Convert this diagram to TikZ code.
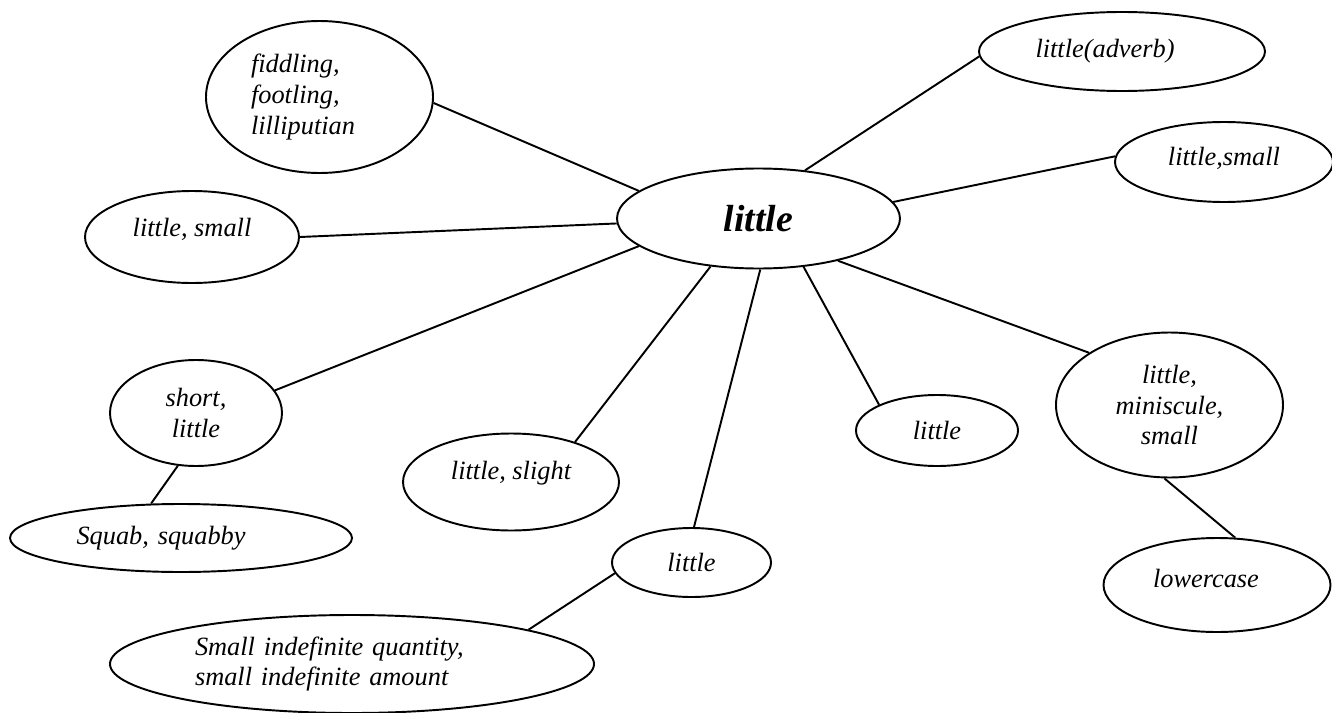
\documentclass[tikz,border=0pt]{standalone}
\usepackage{fontspec}
\setmainfont{Liberation Serif}
\usetikzlibrary{shapes.geometric}

\begin{document}
\begin{tikzpicture}[
      word/.style={draw=black,line width=1.1pt,ellipse,inner sep=0pt,
        align=center,font=\fontsize{15}{17.5}\selectfont\itshape},
      link/.style={draw=black,line width=1.1pt}
    ]
    \useasboundingbox (0,0) rectangle (26.64,-14.26);
    % the head word
    \node[word,minimum width=5.66cm,minimum height=2.0cm,
      font=\fontsize{21.5}{24}\selectfont\bfseries\itshape] (lit) at (15.17,-4.37) {little};
    % upper ring
    \node[word,minimum width=4.54cm,minimum height=3.04cm,text width=2.74cm,align=left]
      (fid) at (6.39,-1.94) {fiddling,\\footling,\\lilliputian};
    \node[word,minimum width=4.28cm,minimum height=1.84cm,text depth=0.39cm]
      (lsm) at (3.84,-4.74) {little, small};
    \node[word,minimum width=5.72cm,minimum height=1.58cm,text width=3.46cm,align=left]
      (adv) at (22.44,-1.03) {little(adverb)};
    \node[word,minimum width=4.36cm,minimum height=1.60cm,text depth=0.23cm]
      (rsm) at (24.48,-3.24) {little,small};
    % lower ring
    \node[word,minimum width=3.44cm,minimum height=2.12cm] (sht) at (3.92,-8.26) {short,\\little};
    \node[word,minimum width=4.32cm,minimum height=1.94cm,text depth=0.47cm]
      (sli) at (10.22,-9.64) {little, slight};
    \node[word,minimum width=3.18cm,minimum height=1.38cm] (lbt) at (13.83,-11.25) {little};
    \node[word,minimum width=3.24cm,minimum height=1.42cm] (lmr) at (18.74,-8.61) {little};
    \node[word,minimum width=4.54cm,minimum height=2.90cm] (min) at (23.39,-8.10)
      {little,\\miniscule,\\small};
    % outer leaves
    \node[word,minimum width=6.84cm,minimum height=1.36cm,text width=4.18cm,align=left]
      (sqb) at (3.62,-10.76) {Squab, squabby};
    \node[word,minimum width=9.68cm,minimum height=1.96cm,text width=6.28cm,align=left]
      (ind) at (7.04,-13.28) {Small indefinite quantity,\\small indefinite amount};
    \node[word,minimum width=4.54cm,minimum height=1.88cm,text width=2.56cm,align=left,
      text depth=0.28cm] (low) at (24.34,-11.70) {lowercase};
    % links from the head word
    \draw[link] (lit.167.8) -- (fid.-3.5);
    \draw[link] (lit.182.2) -- (lsm.0);
    \draw[link] (lit.46.3) -- (adv.182);
    \draw[link] (lit.7.5) -- (rsm.177.4);
    \draw[link] (lit.193.6) -- (sht.16.7);
    \draw[link] (lit.225.6) -- (sli.32.8);
    \draw[link] (lit.-88) -- (lbt.86);
    \draw[link] (lit.-47.5) -- (lmr.156.6);
    \draw[link] (lit.-28) -- (min.147.8);
    % second level
    \draw[link] (sht.251.2) -- (sqb.131.2);
    \draw[link] (lbt.-172.6) -- (ind.11);
    \draw[link] (min.266) -- (low.69.7);
  \end{tikzpicture}
\end{document}
